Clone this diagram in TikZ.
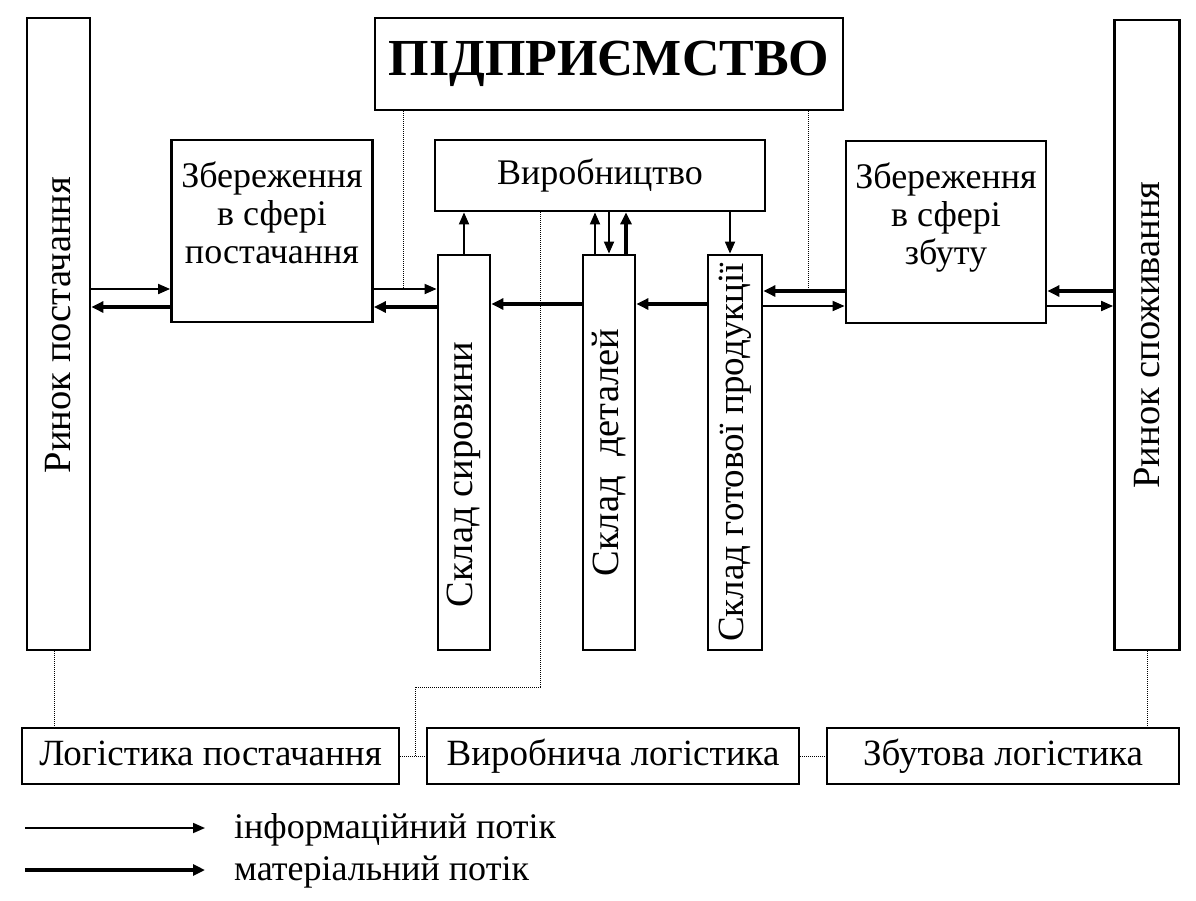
\documentclass[tikz,border=0pt]{standalone}
\usepackage{fontspec}
\setmainfont{Liberation Serif}
\usetikzlibrary{arrows.meta,positioning}

\begin{document}
\begin{tikzpicture}[
  x=1pt, y=1pt,
  box/.style={rectangle, draw=black, line width=2.8pt, fill=white, inner sep=0pt,
              font=\fontsize{36}{38}\selectfont, align=center},
  logbox/.style={box, font=\fontsize{37}{38}\selectfont, text height=26pt, text depth=8pt},
  vtext/.style={rotate=90, inner sep=0pt, font=\fontsize{38.5}{40}\selectfont},
  toptext/.style={anchor=north, align=center, inner sep=11pt, yshift=-12,
                  font=\fontsize{36}{38}\selectfont},
  legtext/.style={anchor=west, inner sep=0pt, font=\fontsize{36}{38}\selectfont},
  info/.style={draw, line width=1.8pt, -{Triangle[length=12pt,width=10pt]}},   % thin arrow
  matl/.style={draw, line width=3.6pt, -{Triangle[length=12pt,width=11pt]}},   % thick arrow
  dotline/.style={draw, densely dotted, line width=1pt}
]
  \fill[white] (0,0) rectangle (1196,-900);
  \useasboundingbox (0,0) rectangle (1196,-900);

  % markets
  \node[box, minimum width=63, minimum height=632,
        label={[yshift=9, vtext]center:Ринок постачання}] (rinokP) at (58.5,-334) {};
  \node[box, minimum width=65, minimum height=630,
        label={[vtext]center:Ринок споживання}] (rinokS) at (1147,-335) {};

  % enterprise
  \node[box, minimum width=468, minimum height=92,
        font=\fontsize{52}{56}\selectfont\bfseries] (firm) at (609,-64) {ПІДПРИЄМСТВО};
  \node[box, minimum width=201, minimum height=182,
        label={[toptext]north:Збереження\\в сфері\\постачання}] (zberP) at (272,-231) {};
  \node[box, minimum width=200, minimum height=182,
        label={[toptext]north:Збереження\\в сфері\\збуту}] (zberZ) at (946,-232) {};
  \node[box, minimum width=330, minimum height=71, text height=26pt, text depth=8pt] (vyrob) at (600,-175.5) {Виробництво};

  % warehouses
  \node[box, minimum width=52, minimum height=395,
        label={[yshift=-22, vtext]center:Склад сировини}] (skladS) at (464,-452.5) {};
  \node[box, minimum width=52, minimum height=395,
        label={[vtext]center:Склад\ \ деталей}] (skladD) at (609,-452.5) {};
  \node[box, minimum width=54, minimum height=395,
        label={[vtext, font=\fontsize{37}{40}\selectfont]center:Склад готової продукції}] (skladG) at (735,-452.5) {};

  % logistics
  \node[logbox, minimum width=377, minimum height=56] (logP) at (210.5,-756) {Логістика постачання};
  \node[logbox, minimum width=372, minimum height=56] (logV) at (613,-756) {Виробнича логістика};
  \node[logbox, minimum width=352, minimum height=56] (logZ) at (1003,-756) {Збутова логістика};

  % levels of the horizontal flows
  \coordinate (yIn) at (0,-289);
  \coordinate (yOut) at (0,-307);
  \coordinate (yMid) at (0,-304);
  \coordinate (zIn) at (0,-291);
  \coordinate (zOut) at (0,-306);

  \draw[info] (rinokP.east |- yIn) -- (zberP.west |- yIn);
  \draw[matl] (zberP.west |- yOut) -- (rinokP.east |- yOut);
  \draw[info] (zberP.east |- yIn) -- (skladS.west |- yIn);
  \draw[matl] (skladS.west |- yOut) -- (zberP.east |- yOut);
  \draw[matl] (skladD.west |- yMid) -- (skladS.east |- yMid);
  \draw[matl] (skladG.west |- yMid) -- (skladD.east |- yMid);
  \draw[matl] (zberZ.west |- zIn) -- (skladG.east |- zIn);
  \draw[info] (skladG.east |- zOut) -- (zberZ.west |- zOut);
  \draw[matl] (rinokS.west |- zIn) -- (zberZ.east |- zIn);
  \draw[info] (zberZ.east |- zOut) -- (rinokS.west |- zOut);

  % to and from production
  \draw[info] (skladS.north) -- (skladS.north |- vyrob.south);
  \draw[info] ([xshift=-14]skladD.north) -- ([xshift=-14]skladD.north |- vyrob.south);
  \draw[info] (skladD.north |- vyrob.south) -- (skladD.north);
  \draw[matl] ([xshift=17]skladD.north) -- ([xshift=17]skladD.north |- vyrob.south);
  \draw[info] ([xshift=-5]skladG.north |- vyrob.south) -- ([xshift=-5]skladG.north);

  % dotted links
  \draw[dotline] ([xshift=-206]firm.south) -- ([xshift=-206]firm.south |- yIn);
  \draw[dotline] ([xshift=199]firm.south) -- ([xshift=199]firm.south |- zIn);
  \coordinate (turn) at (415,-687);
  \draw[dotline] ([xshift=-60]vyrob.south) |- (turn) -- (turn |- logP.east);
  \draw[dotline] (logP.east) -- (logV.west);
  \draw[dotline] (logV.east) -- (logZ.west);
  \draw[dotline] ([xshift=-4]rinokP.south) -- ([xshift=-4]rinokP.south |- logP.north);
  \draw[dotline] (rinokS.south) -- (rinokS.south |- logZ.north);

  % legend
  \node[legtext] (legInfo) at (234,-830) {інформаційний потік};
  \node[legtext] (legMat) at (234,-872) {матеріальний потік};
  \coordinate (legA) at (25,-828);
  \coordinate (legB) at (25,-870);
  \draw[info] (legA) -- ([xshift=-29]legInfo.west |- legA);
  \draw[matl] (legB) -- ([xshift=-29]legMat.west |- legB);
\end{tikzpicture}
\end{document}
